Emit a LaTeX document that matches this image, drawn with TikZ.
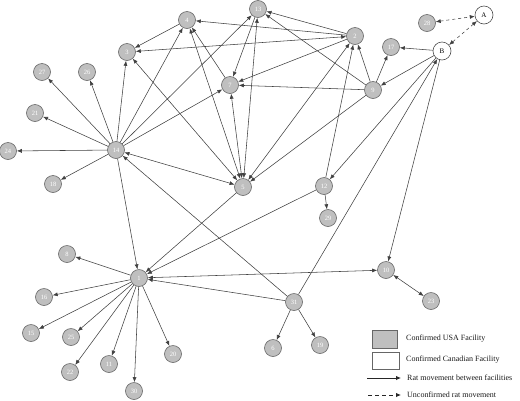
\documentclass[tikz,border=0pt]{standalone}
\usepackage{fontspec}
\setmainfont{Liberation Serif}
\usetikzlibrary{arrows.meta}
\begin{document}
\begin{tikzpicture}[x=1pt,y=-1pt,
  usa/.style={circle,draw=black!60,fill=black!25,line width=0.6pt,minimum size=17pt,inner sep=0pt,text=white,font=\fontsize{6.5}{6.5}\selectfont},
  can/.style={circle,draw=black!70,fill=white,line width=0.6pt,minimum size=18pt,inner sep=0pt,font=\fontsize{7}{7}\selectfont},
  mv/.style={draw=black!75,line width=0.55pt,-{Latex[length=5pt,width=4pt]}},
  bi/.style={draw=black!75,line width=0.55pt,{Latex[length=5pt,width=4pt]}-{Latex[length=5pt,width=4pt]}},
  unconf/.style={draw=black!75,line width=0.55pt,dashed,{Latex[length=5pt,width=4pt]}-{Latex[length=5pt,width=4pt]}},
  legtext/.style={anchor=west,inner sep=0pt,font=\fontsize{8}{8}\selectfont,text=black!90},
  legbox/.style={draw=black!60,line width=0.6pt,minimum width=25pt,minimum height=18pt,inner sep=0pt}
]
\useasboundingbox (0,0) rectangle (520,400);
% Canadian
\node[can] (A) at (484,15) {A};
\node[can] (B) at (442,51) {B};
% USA
\node[usa] (n3) at (127,52) {3};
\node[usa] (n27) at (42,72) {27};
\node[usa] (n26) at (87,72) {26};
\node[usa] (n21) at (35,113) {21};
\node[usa] (n24) at (8,151) {24};
\node[usa] (n14) at (116,150) {14};
\node[usa] (n18) at (53,184) {18};
\node[usa] (n4) at (187,20) {4};
\node[usa] (n13) at (258,9) {13};
\node[usa] (n7) at (230,85) {7};
\node[usa] (n2) at (355,36) {2};
\node[usa] (n17) at (391,47) {17};
\node[usa] (n28) at (427,23) {28};
\node[usa] (n9) at (373,90) {9};
\node[usa] (n5) at (243,187) {5};
\node[usa] (n12) at (324,186) {12};
\node[usa] (n29) at (328,218) {29};
\node[usa] (n1) at (139,278) {1};
\node[usa] (n8) at (67,254) {8};
\node[usa] (n16) at (44,297) {16};
\node[usa] (n15) at (31,333) {15};
\node[usa] (n25) at (71,337) {25};
\node[usa] (n22) at (70,372) {22};
\node[usa] (n11) at (109,364) {11};
\node[usa] (n30) at (134,391) {30};
\node[usa] (n20) at (173,354) {20};
\node[usa] (n31) at (294,302) {31};
\node[usa] (n6) at (273,348) {6};
\node[usa] (n19) at (320,345) {19};
\node[usa] (n10) at (386,270) {10};
\node[usa] (n23) at (431,301) {23};
% edges from 14
\foreach \t in {n27,n26,n21,n24,n18,n3,n4,n13,n7,n1}
  \draw[mv] (n14) -- (\t);
\draw[bi] (n14) -- (n5);
\draw[mv] (n31) -- (n14);
% edges from 1
\foreach \t in {n8,n16,n15,n25,n22,n11,n30,n20}
  \draw[mv] (n1) -- (\t);
\draw[mv] (n5) -- (n1);
\draw[mv] (n12) -- (n1);
\draw[mv] (n31) -- (n1);
\draw[bi] (n1) -- (n10);
% 31
\draw[mv] (n31) -- (n6);
\draw[mv] (n31) -- (n19);
\draw[mv] (n31) -- (B);
% 12, 10
\draw[mv] (n12) -- (n29);
\draw[mv] (B) -- (n12);
\draw[mv] (B) -- (n10);
\draw[bi] (n10) -- (n23);
% B, 9
\draw[mv] (B) -- (n17);
\draw[mv] (B) -- (n9);
\draw[mv] (n9) -- (n17);
\draw[mv] (n9) -- (n2);
\draw[mv] (n9) -- (n7);
\draw[mv] (n9) -- (n13);
\draw[mv] (n9) -- (n5);
% 2
\draw[mv] (n2) -- (n13);
\draw[mv] (n2) -- (n4);
\draw[bi] (n2) -- (n3);
\draw[mv] (n2) -- (n7);
\draw[bi] (n2) -- (n5);
\draw[mv] (n12) -- (n2);
% top cluster
\draw[mv] (n4) -- (n3);
\draw[mv] (n7) -- (n4);
\draw[mv] (n13) -- (n7);
\draw[bi] (n5) -- (n3);
\draw[bi] (n5) -- (n4);
\draw[bi] (n5) -- (n7);
\draw[bi] (n5) -- (n13);
% dashed
\draw[unconf] (n28) -- (A);
\draw[unconf] (A) -- (B);
% legend
\node[legbox,fill=black!25] (lg1) at (384.5,339) {};
\node[legbox,fill=white,minimum width=27pt,minimum height=17pt] (lg2) at (385.5,360.5) {};
\node[legtext] (lt1) at (406,339) {Confirmed USA Facility};
\node[legtext] (lt2) at (406,360) {Confirmed Canadian Facility};
\node[legtext] (lt3) at (407,378) {Rat movement between facilities};
\node[legtext] (lt4) at (407,395) {Unconfirmed rat movement};
\coordinate (la1) at (367,378);
\coordinate (la2) at (401,378);
\coordinate (lb1) at (368,395);
\coordinate (lb2) at (401,395);
\draw[draw=black!85,line width=0.9pt,-{Latex[length=5pt,width=4.5pt]}] (la1) -- (la2);
\draw[draw=black!85,line width=0.9pt,dash pattern=on 4pt off 3pt,-{Latex[length=5pt,width=4.5pt]}] (lb1) -- (lb2);
\end{tikzpicture}
\end{document}
